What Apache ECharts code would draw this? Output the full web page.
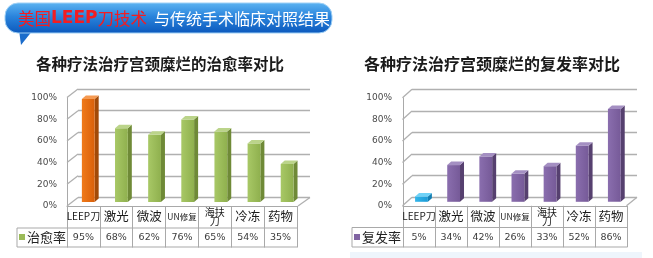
<!DOCTYPE html>
<html><head><meta charset="utf-8">
<script src="https://cdn.jsdelivr.net/npm/echarts@6/dist/echarts.min.js"></script>
<style>html,body{margin:0;padding:0;background:#fff}#c{width:653px;height:258px}</style>
</head><body><div id="c"></div>
<script>
// ---- data ----
const categories = ['LEEP刀','激光','微波','UN修复','海扶刀','冷冻','药物'];
const cureRate = [95,68,62,76,65,54,35];
const relapseRate = [5,34,42,26,33,52,86];
const yTicks = [0,20,40,60,80,100];
const bannerWhite = '与传统手术临床对照结果';
const title1 = '各种疗法治疗宫颈糜烂的治愈率对比';
const title2 = '各种疗法治疗宫颈糜烂的复发率对比';
const seriesName1 = '治愈率', seriesName2 = '复发率';

const chart = echarts.init(document.getElementById('c'), null, {renderer:'canvas', width:653, height:258});

// ---- layout ----
const LC = { front:{left:67,width:230,top:97.5,height:108.5}, back:{left:78,width:232,top:89,height:108.5},
  D:[-11,8.5], off:[-6.3,4.5], tableLeft:17, row1:228, row2:247, valY:237.5 };
const RC = { front:{left:403,width:224,top:97.8,height:108}, back:{left:412,width:225,top:89.3,height:108},
  D:[-9.5,8.5], off:[-6.6,4.5], tableLeft:352, row1:227.5, row2:247, valY:237.5 };

const GRID_COLOR = '#B0B0B0';
const TABLE_COLOR = '#A9A9A9';
const FONT_CJK = '"Noto Sans CJK SC"';

const colorsLeft = i => i === 0
  ? {front:new echarts.graphic.LinearGradient(0,0,1,0,[{offset:0,color:'#F07A1A'},{offset:1,color:'#D9600A'}]), side:'#A24A08', top:'#F59A52'}
  : {front:new echarts.graphic.LinearGradient(0,0,1,0,[{offset:0,color:'#A8C866'},{offset:1,color:'#8FB04E'}]), side:'#6F8A37', top:'#BBD48A'};
const colorsRight = i => i === 0
  ? {front:new echarts.graphic.LinearGradient(0,0,1,0,[{offset:0,color:'#33B6EA'},{offset:1,color:'#1C9BD6'}]), side:'#137FB3', top:'#6FD2F7'}
  : {front:new echarts.graphic.LinearGradient(0,0,1,0,[{offset:0,color:'#8A6EAE'},{offset:1,color:'#765A98'}]), side:'#56406F', top:'#A48FC2'};

function bar3d(off, colors){ return function(params, api){
  const i = api.value(0), v = api.value(1);
  const top = api.coord([i, v]), bot = api.coord([i, 0]);
  const w = 12.8, dx = 4, dy = -3.5;
  const cx = top[0] + off[0];
  const yt = top[1] + off[1], yb = bot[1] + off[1];
  const xl = cx - w/2, xr = cx + w/2;
  const c = colors(i);
  return {type:'group', children:[
    {type:'polygon', shape:{points:[[xr,yt],[xr+dx,yt+dy],[xr+dx,yb+dy],[xr,yb]]}, style:{fill:c.side}},
    {type:'rect', shape:{x:xl,y:yt,width:w,height:yb-yt}, style:{fill:c.front}},
    {type:'polygon', shape:{points:[[xl,yt],[xl+dx,yt+dy],[xr+dx,yt+dy],[xr,yt]]}, style:{fill:c.top}}
  ]};
};}

function frame(D){ return function(params, api){
  const cs = params.coordSys;
  const v = api.value(1);
  const y = api.coord([0, v])[1];
  const st = {stroke:GRID_COLOR, lineWidth:1.3};
  const ch = [{type:'line', shape:{x1:cs.x, y1:y, x2:cs.x+D[0], y2:y+D[1]}, style:st}];
  if (v === 0) ch.push({type:'line', shape:{x1:cs.x+cs.width, y1:y, x2:cs.x+cs.width+D[0]-1, y2:y+D[1]}, style:st});
  return {type:'group', children:ch};
};}

function rowText(labels, rowY){ return function(params, api){
  const i = api.value(0);
  const x = api.coord([i, 0])[0];
  return {type:'text', x:x, y:rowY, style:{text:labels[i], fill:'#3c3c3c', font:'9.5px "DejaVu Sans"', align:'center', verticalAlign:'middle'}};
};}

const catFormatter = v => {
  if (v === 'LEEP刀') return '{a|LEEP刀}';
  if (v === 'UN修复') return '{b|UN修复}';
  if (v === '海扶刀') return '{c|海扶}\n{c|刀}';
  return '{d|' + v + '}';
};
const catRich = {
  a:{fontSize:10, fontFamily:FONT_CJK, color:'#1a1a1a'},
  b:{fontSize:8.5, fontFamily:FONT_CJK, color:'#1a1a1a'},
  c:{fontSize:10, fontFamily:FONT_CJK, color:'#1a1a1a', lineHeight:9},
  d:{fontSize:12.5, fontFamily:FONT_CJK, color:'#1a1a1a'}
};

function grids(C){ return [
  {left:C.back.left, top:C.back.top, width:C.back.width, height:C.back.height},
  {left:C.front.left, top:C.front.top, width:C.front.width, height:C.front.height}
];}
function xAxes(g){ return [
  {gridIndex:g, type:'category', data:categories, show:false},
  {gridIndex:g+1, type:'category', data:categories,
   axisLine:{show:true, lineStyle:{color:TABLE_COLOR, width:1}},
   axisTick:{show:true, interval:0, length:41.5, alignWithLabel:false, lineStyle:{color:TABLE_COLOR}},
   axisLabel:{interval:0, margin:10.5, verticalAlign:'middle', formatter:catFormatter, rich:catRich}}
];}
function yAxes(g, margin){ return [
  {gridIndex:g, type:'value', min:0, max:100, interval:20,
   axisLine:{show:false}, axisTick:{show:false}, axisLabel:{show:false},
   splitLine:{show:true, lineStyle:{color:GRID_COLOR, width:1.3}}},
  {gridIndex:g+1, type:'value', min:0, max:100, interval:20,
   axisLine:{show:true, lineStyle:{color:TABLE_COLOR}}, axisTick:{show:false}, splitLine:{show:false},
   axisLabel:{margin:margin, formatter:'{value}%', fontSize:9, fontFamily:'DejaVu Sans', color:'#4a4a4a'}}
];}

function seriesFor(C, g, name, values, colors, seriesColor){
  const data = values.map((v,i)=>[i,v]);
  return [
    {type:'custom', name:'frame'+g, xAxisIndex:g, yAxisIndex:g, data:yTicks.map(v=>[0,v]), renderItem:frame(C.D), silent:true, clip:false, z:1},
    {type:'custom', name:name, xAxisIndex:g, yAxisIndex:g, data:data, renderItem:bar3d(C.off, colors), itemStyle:{color:seriesColor}, clip:false, z:3},
    {type:'custom', name:'row'+g, xAxisIndex:g+1, yAxisIndex:g+1, data:data, renderItem:rowText(values.map(v=>v+'%'), C.valY), silent:true, clip:false, z:3}
  ];
}

function tableLines(C){
  const right = C.front.left + C.front.width;
  const st = {stroke:TABLE_COLOR, lineWidth:1};
  return [
    {type:'line', shape:{x1:C.tableLeft, y1:C.row1, x2:right, y2:C.row1}, style:st},
    {type:'line', shape:{x1:C.tableLeft, y1:C.row2, x2:right, y2:C.row2}, style:st},
    {type:'line', shape:{x1:C.tableLeft, y1:C.row1, x2:C.tableLeft, y2:C.row2}, style:st}
  ];
}

const option = {
  animation:false,
  backgroundColor:'#ffffff',
  grid:[...grids(LC), ...grids(RC)],
  xAxis:[...xAxes(0), ...xAxes(2)],
  yAxis:[...yAxes(0, 10), ...yAxes(2, 11)],
  legend:[
    {data:[seriesName1], left:19, top:230.5, icon:'rect', itemWidth:6, itemHeight:6, padding:0, selectedMode:false,
     textStyle:{fontSize:13, fontFamily:FONT_CJK, color:'#222', padding:[0,0,0,-3]}},
    {data:[seriesName2], left:354, top:230.5, icon:'rect', itemWidth:6, itemHeight:6, padding:0, selectedMode:false,
     textStyle:{fontSize:13, fontFamily:FONT_CJK, color:'#222', padding:[0,0,0,-3]}}
  ],
  series:[
    ...seriesFor(LC, 0, seriesName1, cureRate, colorsLeft, '#9BBB59'),
    ...seriesFor(RC, 2, seriesName2, relapseRate, colorsRight, '#8064A2')
  ],
  graphic:[
    // banner
    {type:'polygon', shape:{points:[[19,30],[33,30],[21,45]]}, style:{fill:'#1B6CCB'}, z:10},
    {type:'rect', shape:{x:5, y:3, width:327, height:30, r:13},
     style:{fill:new echarts.graphic.LinearGradient(0,0,0,1,[{offset:0,color:'#5DB4F2'},{offset:0.45,color:'#2A84DC'},{offset:1,color:'#0B58BC'}]), stroke:'#9ED0F6', lineWidth:1}, z:10},
    {type:'text', x:18, y:19, style:{text:'{c|美国}{l|LEEP}{c|刀技术}', rich:{c:{fontSize:16.5, fontFamily:FONT_CJK, fill:'#F21D22'}, l:{fontSize:17, fontWeight:'bold', fontFamily:'DejaVu Sans', fill:'#F21D22'}}, verticalAlign:'middle'}, z:11},
    {type:'text', x:154, y:19, style:{text:bannerWhite, fontSize:16, fontFamily:FONT_CJK, fill:'#ffffff', verticalAlign:'middle'}, z:11},
    // titles
    {type:'text', x:160, y:64, style:{text:title1, font:'bold 15.5px "Noto Sans CJK SC"', fill:'#1a1a1a', align:'center', verticalAlign:'middle'}},
    {type:'text', x:492, y:63.5, style:{text:title2, font:'bold 16px "Noto Sans CJK SC"', fill:'#1a1a1a', align:'center', verticalAlign:'middle'}},
    // table lines
    ...tableLines(LC), ...tableLines(RC),
    // faint strip under right table
    {type:'rect', shape:{x:350, y:252, width:292, height:6}, style:{fill:'#EEF5FC'}, z:-1}
  ]
};
chart.setOption(option);
</script></body></html>
